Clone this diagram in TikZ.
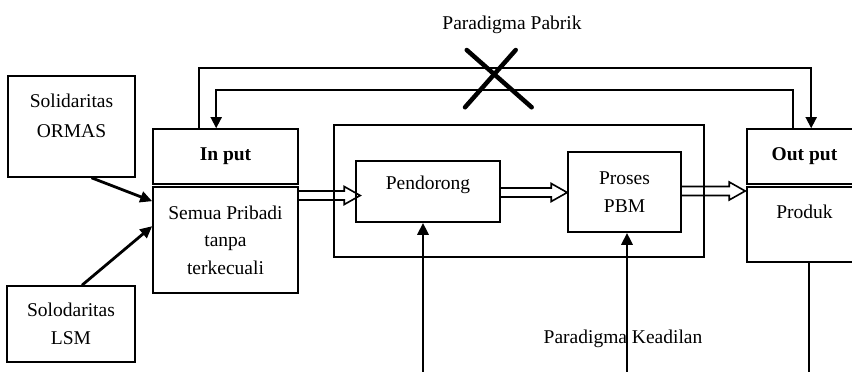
\documentclass[tikz,border=0pt]{standalone}
\usepackage{fontspec}
\setmainfont{Liberation Serif}
\usetikzlibrary{arrows.meta,calc}
\newcommand\dfont{\fontsize{19.5}{27.5}\selectfont}
\newcommand\lowstrut[1]{\rule[-#1]{0pt}{#1}}
\begin{document}
\begin{tikzpicture}[x=1pt,y=-1pt,
  box/.style={draw, line width=1.6pt, inner sep=0pt, align=center, font=\dfont},
  txt/.style={inner sep=0pt, font=\dfont},
  thickarrow/.style={line width=2.8pt, -{Triangle[length=12pt,width=11pt]}},
  fb/.style={line width=1.8pt, -{Triangle[length=11pt,width=11pt]}},
  hollow/.style={line width=1.6pt, to path={let \p1=(\tikztostart), \p2=(\tikztotarget) in
    (\x1,\y1+4.5pt) -- (\x2-16pt,\y1+4.5pt) -- (\x2-16pt,\y1+9pt) -- (\x2,\y1)
    -- (\x2-16pt,\y1-9pt) -- (\x2-16pt,\y1-4.5pt) -- (\x1,\y1-4.5pt)}}]
\useasboundingbox (0,0) rectangle (852,372);
\clip (0,0) rectangle (852,372);

% boxes
\node[box, minimum width=127pt, minimum height=101pt] (ormas) at (71.5,126.5)
  {Solidaritas\\[3pt]ORMAS\lowstrut{22pt}};
\node[box, minimum width=128pt, minimum height=76pt] (lsm) at (71,324)
  {Solodaritas\\LSM};
\node[box, minimum width=145pt, minimum height=55pt, font=\dfont\bfseries] (input) at (225.5,156.5) {In put};
\node[box, minimum width=145pt, minimum height=106pt] (semua) at (225.5,240)
  {Semua Pribadi\\tanpa\\terkecuali};
\node[draw, line width=2.6pt, minimum width=370pt, minimum height=132pt] (big) at (519,191) {};
\node[box, minimum width=144pt, minimum height=61pt] (pendorong) at (428,191.5)
  {Pendorong\lowstrut{17pt}};
\node[box, minimum width=113pt, minimum height=80pt] (proses) at (624.5,192)
  {Proses\\PBM};
\node[box, minimum width=115pt, minimum height=55pt, font=\dfont\bfseries] (output) at (804.5,156.5) {Out put};
\node[box, minimum width=115pt, minimum height=75pt] (produk) at (804.5,224.5)
  {Produk\lowstrut{25pt}};

% texts
\node[txt, anchor=base] (pabrik) at (512,30) {Paradigma Pabrik};
\node[txt, anchor=base] (keadilan) at (623,343) {Paradigma Keadilan};

% cross
\draw[line width=4.5pt, line cap=round] (466.7,50) -- (531.7,107.3) (515.7,50) -- (465,107.3);

% input arrows
\draw[thickarrow] ([xshift=20pt]ormas.south) -- ([yshift=-15pt]semua.north west);
\draw[thickarrow] ([xshift=11pt]lsm.north) -- ([yshift=-40pt]semua.north west);

% hollow arrows
\draw[hollow] (semua.east |- 0,195.5) to ([xshift=5pt]pendorong.west);
\draw[hollow] (pendorong.east |- 0,192.5) to (proses.west);
\draw[hollow] (proses.east |- 0,191) to ([xshift=-1pt]produk.west);

% feedback lines
\draw[fb] ([xshift=47pt]input.north west) -- ++(0,-60) -| ([xshift=65pt]output.north west);
\draw[fb] ([xshift=47pt]output.north west) -- ++(0,-38) -| ([xshift=64pt]input.north west);

% bottom arrows
\coordinate (b1) at (423,376);
\coordinate (b2) at (627,376);
\coordinate (b3) at (809,376);
\draw[thickarrow] (b1) -- (b1 |- pendorong.south);
\draw[thickarrow] (b2) -- (b2 |- proses.south);
\draw[line width=1.4pt] (produk.south -| b3) -- (b3);
\end{tikzpicture}
\end{document}
